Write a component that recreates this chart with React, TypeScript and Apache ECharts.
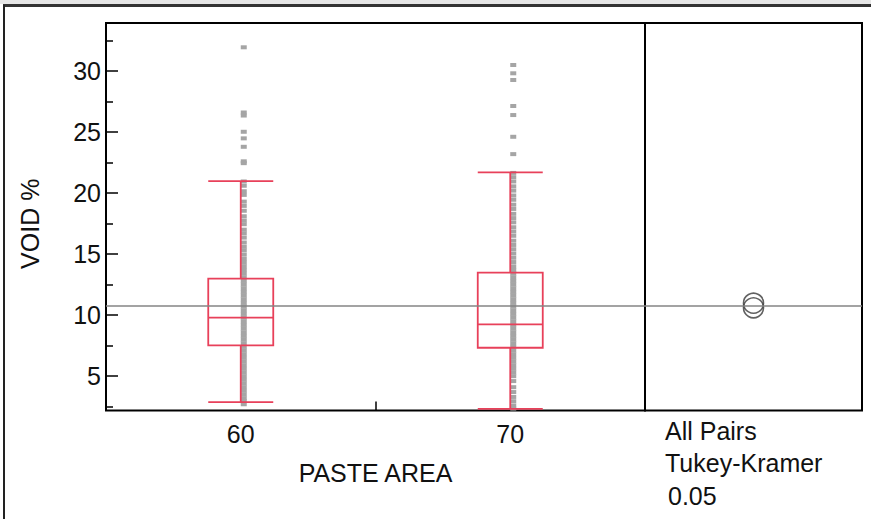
import React, { useEffect, useRef } from "react";
import * as echarts from "echarts";

// ---- data ----
const categories = ["60", "70"];
// [lower whisker, Q1, median, Q3, upper whisker]
const boxStats = [
  [2.87, 7.52, 9.8, 13.0, 20.98],
  [2.33, 7.33, 9.25, 13.49, 21.69],
];
const outliers60 = [31.94, 26.6, 26.35, 25.02, 24.48, 23.79, 22.6, 22.45];
const outliers70 = [30.49, 29.81, 29.26, 27.13, 26.39, 24.61, 23.19];
const points60 = [
  20.95, 20.6, 20.15, 19.85, 19.3, 18.95, 18.55, 18.1, 17.75, 17.45, 17.0, 16.7,
  16.35, 15.95, 15.6, 15.3, 14.95, 14.6, 14.3, 14.0, 13.7, 13.4, 13.1, 12.8,
  12.5, 12.2, 11.9, 11.6, 11.3, 11.0, 10.7, 10.4, 10.1, 9.8, 9.5, 9.2, 8.9, 8.6,
  8.3, 8.0, 7.7, 7.4, 7.1, 6.8, 6.5, 6.2, 5.9, 5.6, 5.3, 5.0, 4.7, 4.4, 4.1,
  3.8, 3.5, 3.2, 2.95, 2.7,
];
const points70 = [
  21.65, 21.3, 20.95, 20.55, 20.2, 19.8, 19.45, 19.05, 18.7, 18.3, 17.95, 17.6,
  17.2, 16.85, 16.5, 16.1, 15.75, 15.4, 15.05, 14.7, 14.35, 14.0, 13.7, 13.4,
  13.1, 12.8, 12.5, 12.2, 11.9, 11.6, 11.3, 11.0, 10.7, 10.4, 10.1, 9.8, 9.5,
  9.2, 8.9, 8.6, 8.3, 8.0, 7.7, 7.4, 7.1, 6.8, 6.5, 6.2, 5.9, 5.6, 5.3, 5.0,
  4.6, 4.1, 3.7, 3.3, 2.95, 2.6, 2.35,
];
const grandMean = 10.78;
const groupMeans = [10.6, 10.98];
const yMin = 2.19;
const yMax = 33.93;
const majorTicks = [5, 10, 15, 20, 25, 30];
const minorTicks = [2.5, 7.5, 12.5, 17.5, 22.5, 27.5, 32.5];
const xAxisName = "PASTE AREA";
const yAxisName = "VOID %";
const comparisonLabels = ["All Pairs", "Tukey-Kramer", "0.05"];

const FONT = '"Liberation Sans", Arial, sans-serif';
const FS = 25;
const RED = "#e8405a";
const GRAY_PT = "#a5a5a5";

export default function App() {
  const ref = useRef<HTMLDivElement>(null);

  useEffect(() => {
    document.body.style.margin = "0";
    if (!ref.current) return;
    const chart = echarts.init(ref.current, null, { renderer: "svg" });

    const scatterData = [
      ...points60.map((v) => [0, v]),
      ...outliers60.map((v) => [0, v]),
      ...points70.map((v) => [1, v]),
      ...outliers70.map((v) => [1, v]),
    ];

    const textStyle = { fontSize: FS, color: "#111", fontFamily: FONT };

    const option: any = {
      animation: false,
      backgroundColor: "#ffffff",
      textStyle: { fontFamily: FONT },
      grid: [
        {
          left: 106,
          top: 23,
          width: 539,
          height: 387.5,
          show: true,
          borderColor: "#000",
          borderWidth: 2,
          backgroundColor: "transparent",
        },
        {
          left: 645,
          top: 23,
          width: 217,
          height: 387.5,
          show: true,
          borderColor: "#000",
          borderWidth: 2,
          backgroundColor: "transparent",
        },
      ],
      xAxis: [
        {
          gridIndex: 0,
          type: "category",
          data: categories,
          boundaryGap: true,
          axisLine: { show: false },
          axisTick: {
            show: true,
            inside: true,
            length: 9,
            lineStyle: { color: "#000", width: 1.5 },
          },
          axisLabel: { show: true, margin: 11, ...textStyle },
          name: xAxisName,
          nameLocation: "middle",
          nameGap: 50,
          nameTextStyle: textStyle,
          splitLine: { show: false },
        },
        {
          gridIndex: 1,
          type: "value",
          min: 0,
          max: 1,
          show: false,
        },
      ],
      yAxis: [
        {
          gridIndex: 0,
          type: "value",
          min: yMin,
          max: yMax,
          axisLine: { show: false },
          axisTick: {
            show: true,
            inside: true,
            length: 12,
            customValues: majorTicks,
            lineStyle: { color: "#000", width: 1.5 },
          },
          axisLabel: {
            show: true,
            margin: 5,
            ...textStyle,
            customValues: majorTicks,
          },
          splitLine: { show: false },
          name: yAxisName,
          nameLocation: "middle",
          nameGap: 64,
          nameRotate: 90,
          nameTextStyle: { ...textStyle, padding: [0, 14, 0, 0] },
        },
        {
          gridIndex: 0,
          type: "value",
          min: yMin,
          max: yMax,
          position: "left",
          axisLine: { show: false },
          axisTick: {
            show: true,
            inside: true,
            length: 7,
            customValues: minorTicks,
            lineStyle: { color: "#000", width: 1.5 },
          },
          axisLabel: { show: false, customValues: minorTicks },
          splitLine: { show: false },
        },
        {
          gridIndex: 1,
          type: "value",
          min: yMin,
          max: yMax,
          show: false,
        },
      ],
      series: [
        {
          type: "scatter",
          xAxisIndex: 0,
          yAxisIndex: 0,
          data: scatterData,
          symbol: "rect",
          symbolSize: [6, 4],
          symbolOffset: [3, 0],
          itemStyle: { color: GRAY_PT, opacity: 1 },
          silent: true,
          z: 2,
          markLine: {
            silent: true,
            symbol: "none",
            label: { show: false },
            lineStyle: { color: "#858585", width: 1.5, type: "solid" },
            data: [{ yAxis: grandMean }],
          },
        },
        {
          type: "boxplot",
          xAxisIndex: 0,
          yAxisIndex: 0,
          data: boxStats,
          boxWidth: [65, 65],
          itemStyle: {
            color: "transparent",
            borderColor: RED,
            borderWidth: 1.8,
          },
          silent: true,
          z: 3,
        },
        {
          type: "scatter",
          xAxisIndex: 1,
          yAxisIndex: 2,
          data: groupMeans.map((m) => [0.5, m]),
          symbol: "circle",
          symbolSize: 20,
          itemStyle: {
            color: "transparent",
            borderColor: "#3a3a3a",
            borderWidth: 1.6,
          },
          silent: true,
          z: 3,
          markLine: {
            silent: true,
            symbol: "none",
            label: { show: false },
            lineStyle: { color: "#858585", width: 1.5, type: "solid" },
            data: [{ yAxis: grandMean }],
          },
        },
      ],
      graphic: [
        {
          type: "rect",
          shape: { x: 0, y: 0, width: 871, height: 4 },
          style: { fill: "#e6e6e6" },
          silent: true,
        },
        {
          type: "line",
          shape: { x1: 3, y1: 5.5, x2: 871, y2: 5.5 },
          style: { stroke: "#333", lineWidth: 3 },
          silent: true,
        },
        {
          type: "line",
          shape: { x1: 4, y1: 5, x2: 4, y2: 519 },
          style: { stroke: "#222", lineWidth: 2 },
          silent: true,
        },
        {
          type: "text",
          left: 665,
          top: 418,
          style: { text: comparisonLabels[0], fontSize: FS, fontFamily: FONT, fill: "#111" },
          silent: true,
        },
        {
          type: "text",
          left: 665,
          top: 450,
          style: { text: comparisonLabels[1], fontSize: FS, fontFamily: FONT, fill: "#111" },
          silent: true,
        },
        {
          type: "text",
          left: 668,
          top: 483,
          style: { text: comparisonLabels[2], fontSize: FS, fontFamily: FONT, fill: "#111" },
          silent: true,
        },
      ],
    };

    chart.setOption(option);
    return () => {
      chart.dispose();
    };
  }, []);

  return (
    <div
      ref={ref}
      style={{ position: "fixed", left: 0, top: 0, width: 871, height: 519 }}
    />
  );
}
